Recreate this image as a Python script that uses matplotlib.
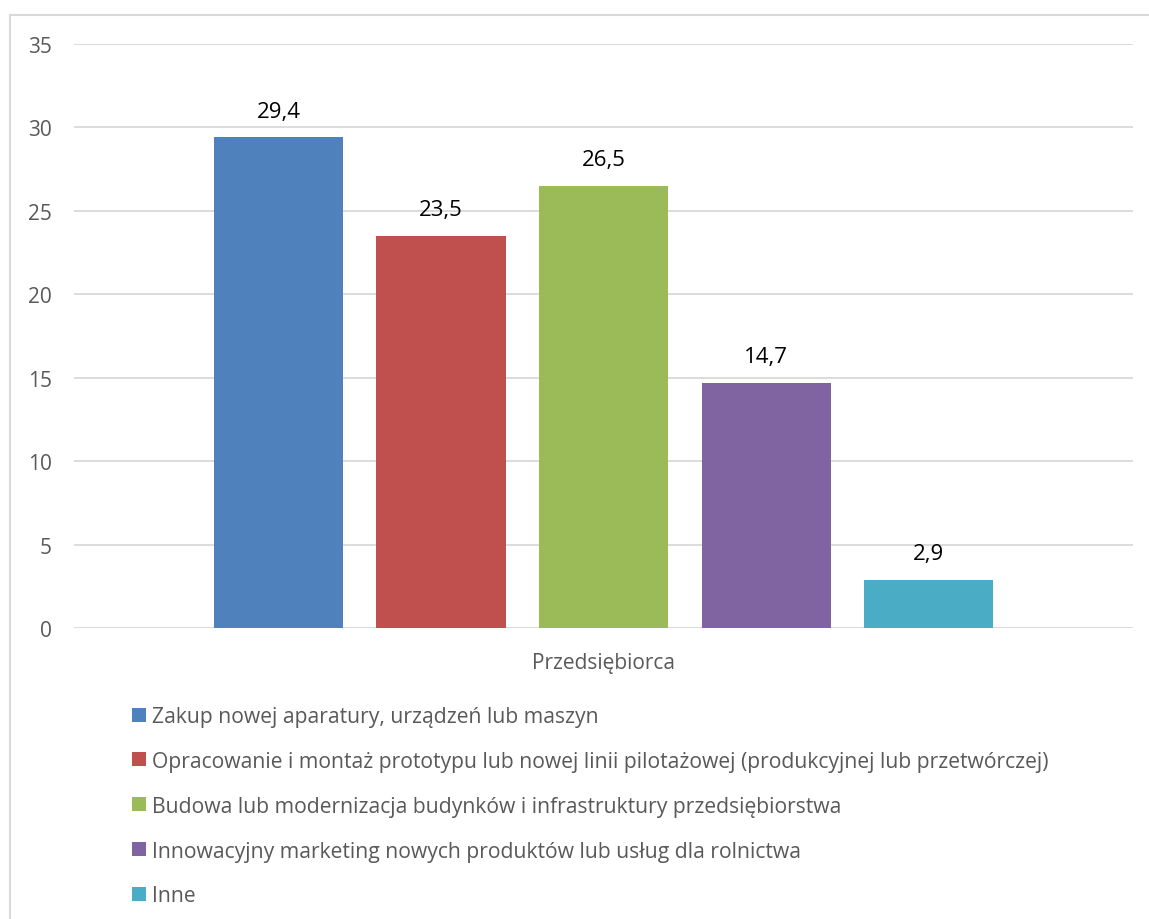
import matplotlib.pyplot as plt
from matplotlib.lines import Line2D

plt.rcParams['font.family'] = ['Open Sans', 'DejaVu Sans']

kategorie = [
    "Zakup nowej aparatury, urządzeń lub maszyn",
    "Opracowanie i montaż prototypu lub nowej linii pilotażowej (produkcyjnej lub przetwórczej)",
    "Budowa lub modernizacja budynków i infrastruktury przedsiębiorstwa",
    "Innowacyjny marketing nowych produktów lub usług dla rolnictwa",
    "Inne",
]
wartosci = [29.4, 23.5, 26.5, 14.7, 2.9]
kolory = ["#4f81bd", "#c0504d", "#9bbb59", "#8064a2", "#4bacc6"]
grupa = "Przedsiębiorca"
yticks = [0, 5, 10, 15, 20, 25, 30, 35]

fig = plt.figure(figsize=(11.49, 9.2), dpi=100)
ax = fig.add_axes([0.0644, 0.3163, 0.9217, 0.6348])

# ramka wykresu (lewa i górna krawędź)
szary = "#d9d9d9"
fig.add_artist(Line2D([10 / 1149, 10 / 1149], [0, 1 - 16 / 920],
                      transform=fig.transFigure, color=szary, lw=1.5))
fig.add_artist(Line2D([10 / 1149, 1], [1 - 16 / 920, 1 - 16 / 920],
                      transform=fig.transFigure, color=szary, lw=1.5))

for i, (k, v, c) in enumerate(zip(kategorie, wartosci, kolory)):
    ax.bar(i, v, width=0.794, color=c, label=k, zorder=3)
    ax.text(i, v + 0.95, f"{v:.1f}".replace(".", ","), ha="center", va="bottom",
            fontsize=16, color="black")

ax.set_ylim(0, 35)
ax.set_xlim(-1.258, 5.258)
ax.set_yticks(yticks)
ax.yaxis.grid(True, color=szary, lw=1.3, zorder=0)
ax.tick_params(axis="y", length=0, pad=16, labelsize=15, labelcolor="#595959")
ax.set_xticks([2])
ax.set_xticklabels([grupa])
ax.tick_params(axis="x", length=0, pad=17, labelsize=15, labelcolor="#595959")
for s in ax.spines.values():
    s.set_visible(False)

ax.legend(loc="upper left", bbox_to_anchor=(132 / 1149, 1 - 707 / 920),
          bbox_transform=fig.transFigure, frameon=False, fontsize=15.2,
          labelcolor="#595959", handlelength=0.65, handleheight=0.65,
          handletextpad=0.3, labelspacing=1.13, borderpad=0, borderaxespad=0)

fig.savefig("out.png", dpi=100)
